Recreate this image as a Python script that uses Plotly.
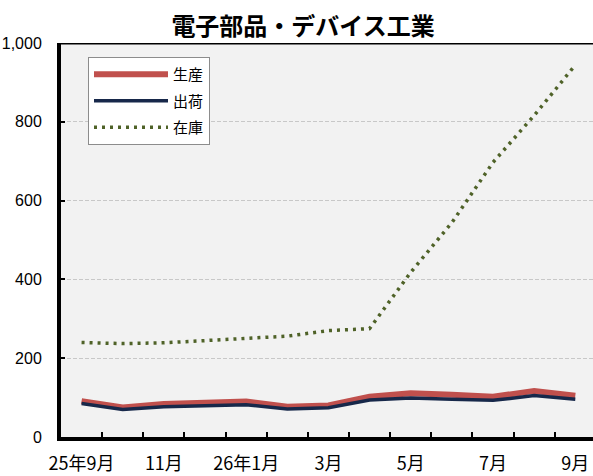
import plotly.graph_objects as go

months = ["25年9月", "10月", "11月", "12月", "26年1月", "2月", "3月", "4月",
          "5月", "6月", "7月", "8月", "9月"]
tick_labels = ["25年9月", "", "11月", "", "26年1月", "", "3月", "", "5月", "", "7月", "", "9月"]

production = [91, 75, 84, 86, 90, 77, 80, 102, 111, 107, 102, 117, 105]
shipments = [85, 70, 77, 79, 82, 71, 74, 94, 99, 96, 93, 105, 96]
inventory = [240, 237, 239, 244, 250, 256, 270, 275, 418, 544, 697, 816, 944]

JP = "Noto Sans CJK JP"

fig = go.Figure()
fig.add_trace(go.Scatter(x=months, y=production, name="生産", mode="lines", legendgroup="a",
                         line=dict(color="#C0504D", width=6)))
fig.add_trace(go.Scatter(x=months, y=shipments, name="出荷", mode="lines", legendgroup="b",
                         line=dict(color="#17284A", width=3.5)))
fig.add_trace(go.Scatter(x=months, y=inventory, name="在庫", mode="lines", legendgroup="c",
                         line=dict(color="#4F6228", width=3.5, dash="3px,5px")))

fig.add_shape(type="line", xref="paper", x0=0, x1=1, yref="y", y0=1000, y1=1000,
              line=dict(color="black", width=3))

L, T, B = 61, 43, 39
pw = 593 - L
ph = 476 - T - B

fig.update_layout(
    width=593, height=476,
    margin=dict(l=L, r=0, t=T, b=B, autoexpand=False),
    paper_bgcolor="white", plot_bgcolor="#F2F2F2",
    title=dict(text="<b>電子部品・デバイス工業</b>", x=0.511, xanchor="center",
               y=1 - 26.5 / 476, yanchor="middle",
               font=dict(family=JP, size=24, color="black")),
    showlegend=True,
    legend=dict(x=(88 - L) / pw, y=(476 - B - 57) / ph, xanchor="left", yanchor="top",
                bgcolor="white", bordercolor="#8c8c8c", borderwidth=1,
                font=dict(family=JP, size=15, color="black"),
                itemwidth=74, tracegroupgap=4),
    xaxis=dict(type="category", range=[-0.5, 12.43], automargin=False,
               tickvals=months, ticktext=tick_labels, tickson="boundaries",
               tickangle=0,
               ticks="inside", ticklen=5, tickwidth=2, tickcolor="black",
               showline=True, linecolor="black", linewidth=4,
               showgrid=False, zeroline=False,
               tickfont=dict(family=JP, size=18, color="black"),
               ticklabelstandoff=7),
    yaxis=dict(range=[0, 1000], dtick=200, tickformat=",", automargin=False,
               ticks="inside", ticklen=4, tickwidth=2, tickcolor="black",
               showline=True, linecolor="black", linewidth=4,
               showgrid=True, gridcolor="#C8C8C8", griddash="4px,2px", gridwidth=1,
               zeroline=False,
               tickfont=dict(family="Liberation Sans", size=16, color="black"),
               ticklabelstandoff=12),
)

fig.write_html("out.html", config={"displayModeBar": False},
               post_script="document.body.style.margin='0px';document.body.style.overflow='hidden';")
